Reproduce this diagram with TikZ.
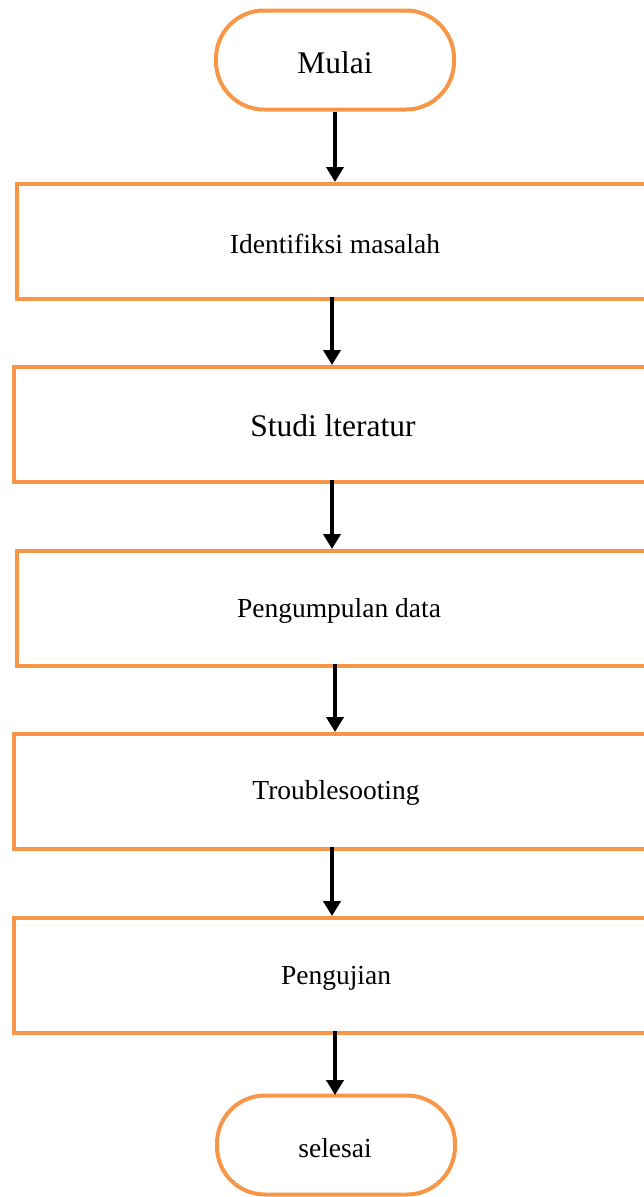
\documentclass[tikz,border=0pt]{standalone}
\usepackage{fontspec}
\setmainfont{Liberation Serif}
\usetikzlibrary{arrows.meta}
\definecolor{orng}{HTML}{F79646}
\tikzset{
  box/.style={draw=orng, line width=4pt, minimum width=655pt, minimum height=115pt, anchor=north west, inner sep=0pt},
  term/.style={draw=orng, line width=4pt, rounded corners=48pt, minimum width=238pt, minimum height=99pt, inner sep=0pt},
  arr/.style={line width=4.5pt, -{Triangle[length=15pt,width=17pt]}},
  txt/.style={font=\fontsize{27.5}{33}\selectfont},
  bigtxt/.style={font=\fontsize{31.5}{38}\selectfont}
}
\begin{document}
\begin{tikzpicture}[x=1pt,y=-1pt]
\useasboundingbox (0,0) rectangle (643,1197);
\node[term] (mulai) at (335,60) {};
\node[bigtxt] at (335,63) {Mulai};
\node[box] (b1) at (15,182) {};
\node[txt] at (335,244) {Identifiksi masalah};
\node[box] (b2) at (12,365) {};
\node[bigtxt] at (333,426) {Studi lteratur};
\node[box] (b3) at (15,549) {};
\node[txt] at (339,611) {Pengumpulan data};
\node[box] (b4) at (12,732) {};
\node[txt] at (336,793) {Troublesooting};
\node[box] (b5) at (12,916) {};
\node[txt] at (336,978) {Pengujian};
\node[term] (sel) at (336,1145) {};
\node[txt] at (335,1148) {selesai};
\coordinate (a1e) at (335,182);
\coordinate (a2s) at (332,297); \coordinate (a2e) at (332,365);
\coordinate (a3s) at (332,480); \coordinate (a3e) at (332,549);
\coordinate (a4s) at (335,664); \coordinate (a4e) at (335,732);
\coordinate (a5s) at (332,847); \coordinate (a5e) at (332,916);
\coordinate (a6s) at (335,1031); \coordinate (a6e) at (335,1095);
\draw[arr] (mulai.south) -- (a1e);
\draw[arr] (a2s) -- (a2e);
\draw[arr] (a3s) -- (a3e);
\draw[arr] (a4s) -- (a4e);
\draw[arr] (a5s) -- (a5e);
\draw[arr] (a6s) -- (a6e);
\end{tikzpicture}
\end{document}
